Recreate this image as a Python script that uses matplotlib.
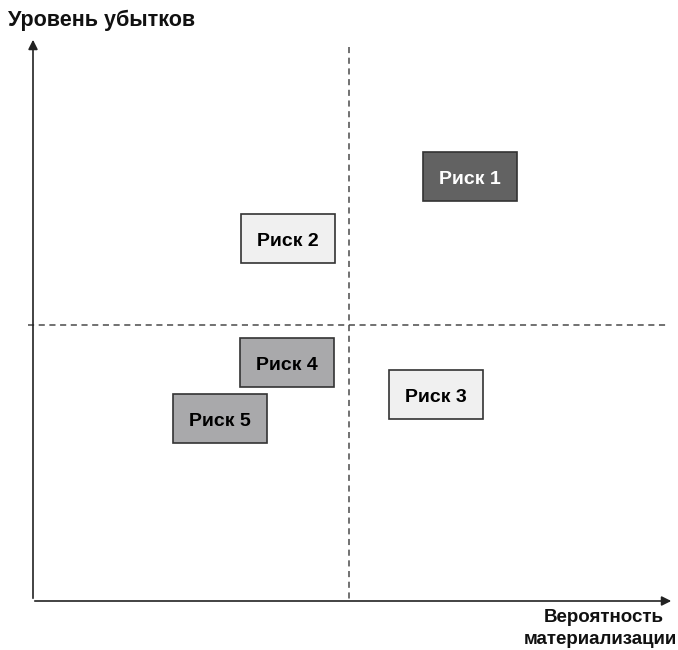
import matplotlib.pyplot as plt
from matplotlib.patches import Rectangle

plt.rcParams['font.family'] = ['Liberation Sans', 'DejaVu Sans']

# risk boxes: label, centre x, centre y (pixel-like scale of the picture), fill, text colour
risk_labels = ['Риск 1', 'Риск 2', 'Риск 3', 'Риск 4', 'Риск 5']
risk_x = [470, 288, 436, 287, 220]
risk_y = [176, 238, 394, 362, 418]
risk_fill = ['#626262', '#f0f0f0', '#f0f0f0', '#a9a9ab', '#a9a9ab']
risk_text = ['white', 'black', 'black', 'black', 'black']

box_w, box_h = 94, 49

fig = plt.figure(figsize=(6.78, 6.5), dpi=100)
ax = fig.add_axes([0, 0, 1, 1])
ax.set_xlim(0, 678)
ax.set_ylim(650, 0)
ax.axis('off')

# axes with arrows
ax.annotate('', xy=(33, 37), xytext=(33, 601),
            arrowprops=dict(arrowstyle='-|>', color='#222222', lw=1.2, mutation_scale=14))
ax.annotate('', xy=(674, 601), xytext=(32, 601),
            arrowprops=dict(arrowstyle='-|>', color='#222222', lw=1.2, mutation_scale=14))

# quadrant dividers
ax.plot([349, 349], [47, 601], ls=(0, (4, 3)), color='#4a4a4a', lw=1.1)
ax.plot([28, 668], [325, 325], ls=(0, (4, 3)), color='#4a4a4a', lw=1.1)

for lab, x, y, fc, tc in zip(risk_labels, risk_x, risk_y, risk_fill, risk_text):
    ax.add_patch(Rectangle((x - box_w / 2, y - box_h / 2), box_w, box_h,
                           facecolor=fc, edgecolor='#333333', lw=1.2, zorder=3))
    ax.text(x, y + 3, lab, ha='center', va='center', fontsize=14, fontweight='bold',
            color=tc, zorder=4)

ax.text(8, 20, 'Уровень убытков', ha='left', va='center', fontsize=15.5,
        fontweight='bold', color='#111111')
ax.text(664, 618, 'Вероятность', ha='right', va='center', fontsize=13.5,
        fontweight='bold', color='#111111')
ax.text(677, 639, 'материализации', ha='right', va='center', fontsize=13.5,
        fontweight='bold', color='#111111')

fig.savefig('out.png', dpi=100)
